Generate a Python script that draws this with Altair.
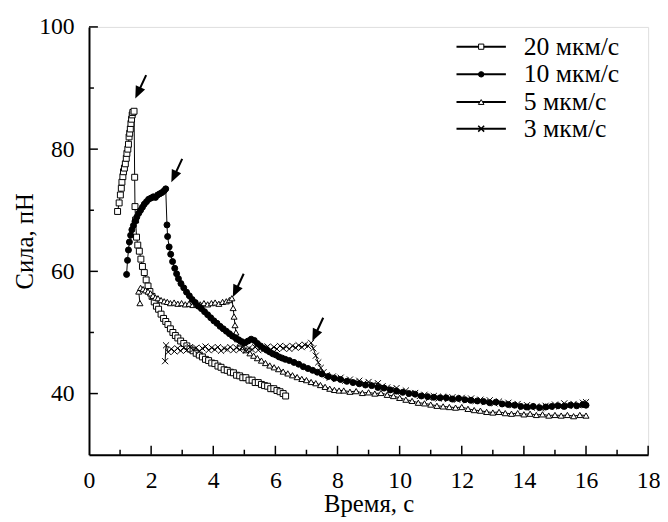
import altair as alt
import pandas as pd

# ---- data ----
series_names = ["20 мкм/с", "10 мкм/с", "5 мкм/с", "3 мкм/с"]

s20 = [(0.92, 69.8), (0.97, 71.2), (1.01, 72.5), (1.04, 73.6), (1.06, 74.6), (1.09, 75.5), (1.11, 76.3),
       (1.14, 76.9), (1.17, 77.6), (1.20, 78.5), (1.22, 79.3), (1.25, 80.0), (1.27, 80.8), (1.29, 82.0),
       (1.31, 82.6), (1.33, 83.3), (1.35, 84.2), (1.37, 84.9), (1.39, 85.6), (1.41, 86.0), (1.45, 86.2),
       (1.47, 75.4), (1.48, 70.6), (1.50, 68.4), (1.53, 65.6), (1.57, 64.3), (1.62, 63.3), (1.67, 62.0),
       (1.72, 60.8), (1.78, 59.8), (1.84, 58.6), (1.90, 57.6), (1.96, 56.7), (2.03, 55.9), (2.10, 55.0),
       (2.17, 54.3), (2.24, 53.8), (2.32, 53.0), (2.40, 52.3), (2.47, 51.8), (2.54, 51.3), (2.62, 50.6),
       (2.70, 50.0), (2.78, 49.5), (2.86, 49.1), (2.95, 48.6), (3.05, 48.2), (3.15, 47.8), (3.25, 47.3),
       (3.35, 47.0), (3.45, 46.6), (3.55, 46.3), (3.65, 46.0), (3.75, 45.6), (3.85, 45.4), (3.95, 45.0),
       (4.05, 44.9), (4.15, 44.5), (4.25, 44.3), (4.35, 43.9), (4.45, 43.8), (4.55, 43.5), (4.65, 43.4),
       (4.75, 43.0), (4.85, 42.9), (4.95, 42.6), (5.05, 42.6), (5.15, 42.2), (5.25, 42.2), (5.35, 41.8),
       (5.45, 41.8), (5.55, 41.5), (5.65, 41.3), (5.75, 41.2), (5.85, 40.8), (5.95, 40.8), (6.05, 40.5),
       (6.15, 40.3), (6.25, 40.0), (6.33, 39.6)]

s10 = [(1.21, 59.5), (1.24, 61.8), (1.27, 63.5), (1.30, 64.8), (1.34, 65.9), (1.38, 66.8), (1.43, 67.5),
       (1.48, 68.2), (1.54, 68.9), (1.60, 69.5), (1.66, 70.0), (1.72, 70.5), (1.78, 71.0), (1.85, 71.4),
       (1.92, 71.8), (2.00, 72.0), (2.07, 72.2), (2.14, 72.1), (2.21, 72.5), (2.28, 72.7), (2.35, 72.9),
       (2.42, 73.2), (2.47, 73.5), (2.51, 67.6), (2.53, 65.7), (2.58, 64.0), (2.63, 62.8), (2.69, 61.6),
       (2.76, 60.5), (2.82, 59.6), (2.88, 58.8), (2.96, 58.0), (3.05, 57.3), (3.14, 56.6), (3.23, 56.0),
       (3.32, 55.4), (3.42, 54.9), (3.52, 54.3), (3.62, 53.9), (3.72, 53.4), (3.82, 52.9), (3.92, 52.4),
       (4.02, 51.9), (4.12, 51.5), (4.22, 51.0), (4.32, 50.6), (4.42, 50.2), (4.52, 49.8), (4.62, 49.4),
       (4.72, 49.1), (4.82, 48.8), (4.92, 48.5), (5.02, 48.3), (5.12, 48.6), (5.22, 48.9), (5.32, 48.7),
       (5.42, 48.2), (5.52, 47.8), (5.62, 47.4), (5.72, 47.1), (5.82, 46.8), (5.92, 46.5), (6.02, 46.3),
       (6.12, 46.0), (6.22, 45.8), (6.32, 45.6), (6.45, 45.4), (6.60, 45.1), (6.75, 44.8), (6.90, 44.4),
       (7.05, 44.1), (7.20, 43.8), (7.35, 43.5), (7.50, 43.2), (7.70, 42.8), (7.90, 42.5), (8.10, 42.3),
       (8.30, 42.0), (8.50, 41.8), (8.70, 41.6), (8.90, 41.4), (9.10, 41.3), (9.30, 41.0), (9.50, 40.9),
       (9.70, 40.6), (9.90, 40.4), (10.10, 40.2), (10.30, 40.0), (10.50, 39.9), (10.70, 39.6), (10.90, 39.5),
       (11.10, 39.4), (11.30, 39.3), (11.50, 39.3), (11.70, 39.1), (11.90, 39.2), (12.10, 39.0), (12.30, 38.9),
       (12.50, 38.8), (12.70, 38.7), (12.90, 38.5), (13.10, 38.6), (13.30, 38.3), (13.50, 38.2), (13.70, 38.1),
       (13.90, 37.9), (14.10, 37.8), (14.30, 37.9), (14.50, 37.7), (14.70, 37.8), (14.90, 37.9), (15.10, 38.0),
       (15.30, 37.9), (15.50, 38.1), (15.70, 38.0), (15.90, 38.2), (16.00, 38.1)]

s5 = [(1.64, 54.8), (1.60, 56.7), (1.66, 57.3), (1.74, 57.1), (1.82, 56.9), (1.90, 56.7), (1.98, 56.4),
      (2.06, 56.0), (2.14, 55.7), (2.22, 55.6), (2.32, 55.3), (2.42, 55.1), (2.52, 55.0), (2.62, 54.8),
      (2.74, 54.9), (2.86, 54.7), (2.98, 54.8), (3.10, 54.6), (3.22, 54.7), (3.34, 54.5), (3.46, 54.7),
      (3.58, 54.6), (3.70, 54.8), (3.82, 54.6), (3.94, 54.8), (4.06, 54.9), (4.18, 54.7), (4.30, 55.0),
      (4.42, 55.1), (4.52, 55.3), (4.60, 55.6), (4.64, 54.0), (4.67, 52.6), (4.70, 51.2), (4.73, 50.0),
      (4.78, 48.9), (4.86, 48.2), (4.96, 47.6), (5.06, 47.1), (5.18, 46.6), (5.30, 46.2), (5.42, 45.8),
      (5.55, 45.4), (5.68, 45.0), (5.82, 44.6), (5.96, 44.3), (6.10, 44.0), (6.25, 43.6), (6.40, 43.3),
      (6.55, 43.0), (6.70, 42.7), (6.85, 42.4), (7.00, 42.2), (7.15, 41.9), (7.30, 41.7), (7.45, 41.4),
      (7.60, 41.1), (7.75, 40.8), (7.90, 40.6), (8.05, 40.5), (8.20, 40.5), (8.40, 40.3), (8.60, 40.4),
      (8.80, 40.1), (9.00, 40.2), (9.20, 40.0), (9.40, 40.1), (9.60, 39.8), (9.80, 39.6), (10.00, 39.3),
      (10.20, 39.0), (10.40, 38.8), (10.60, 38.5), (10.80, 38.4), (11.00, 38.2), (11.20, 38.0), (11.40, 37.9),
      (11.60, 37.8), (11.80, 37.7), (12.00, 37.8), (12.20, 37.5), (12.40, 37.3), (12.60, 37.2), (12.80, 37.0),
      (13.00, 36.9), (13.20, 37.0), (13.40, 36.8), (13.60, 36.7), (13.80, 36.8), (14.00, 36.6), (14.20, 36.7),
      (14.40, 36.5), (14.60, 36.6), (14.80, 36.4), (15.00, 36.5), (15.20, 36.4), (15.40, 36.5), (15.60, 36.3),
      (15.80, 36.5), (16.00, 36.4)]

s3 = [(2.45, 45.3), (2.48, 47.9), (2.55, 46.8), (2.65, 47.3), (2.75, 46.9), (2.85, 47.4), (2.95, 47.0),
      (3.05, 47.5), (3.15, 47.1), (3.25, 47.6), (3.35, 47.2), (3.45, 47.5), (3.55, 46.9), (3.65, 47.4),
      (3.75, 47.7), (3.85, 47.1), (3.95, 47.5), (4.05, 47.2), (4.15, 47.6), (4.25, 47.0), (4.35, 47.4),
      (4.45, 47.2), (4.55, 47.6), (4.65, 47.1), (4.75, 47.5), (4.85, 47.2), (4.95, 47.6), (5.05, 47.0),
      (5.15, 47.4), (5.25, 47.2), (5.35, 47.6), (5.45, 47.1), (5.55, 47.5), (5.65, 47.3), (5.75, 47.7),
      (5.85, 47.2), (5.95, 47.6), (6.05, 47.3), (6.15, 47.8), (6.25, 47.4), (6.35, 47.7), (6.45, 47.3),
      (6.55, 47.8), (6.65, 47.5), (6.75, 47.9), (6.85, 47.6), (6.95, 48.0), (7.05, 47.8), (7.15, 48.3),
      (7.22, 47.4), (7.30, 46.2), (7.38, 45.1), (7.46, 44.2), (7.55, 43.5), (7.65, 43.0), (7.75, 42.6),
      (7.85, 42.8), (7.95, 42.4), (8.10, 42.6), (8.25, 42.1), (8.40, 42.3), (8.55, 41.9), (8.70, 42.1),
      (8.85, 41.7), (9.00, 41.9), (9.15, 41.5), (9.30, 41.7), (9.45, 41.2), (9.60, 41.0), (9.75, 40.7),
      (9.90, 40.9), (10.05, 40.3), (10.20, 40.5), (10.35, 40.0), (10.50, 40.1), (10.65, 39.6), (10.80, 39.8),
      (10.95, 39.3), (11.10, 39.6), (11.25, 39.2), (11.40, 39.5), (11.55, 39.1), (11.70, 39.4), (11.85, 39.0),
      (12.00, 39.3), (12.15, 38.9), (12.30, 39.2), (12.45, 38.8), (12.60, 39.0), (12.75, 38.6), (12.90, 38.9),
      (13.05, 38.4), (13.20, 38.7), (13.35, 38.3), (13.50, 38.5), (13.65, 38.1), (13.80, 38.3), (13.95, 37.8),
      (14.10, 38.1), (14.25, 37.7), (14.40, 37.9), (14.55, 37.6), (14.70, 38.0), (14.85, 37.8), (15.00, 38.2),
      (15.15, 37.9), (15.30, 38.4), (15.45, 38.0), (15.60, 38.3), (15.75, 38.1), (15.90, 38.5), (16.00, 38.6)]

# peaks marked by arrows (arrow tip positions)
arrow_x = [1.49, 2.65, 4.63, 7.19]
arrow_y = [88.3, 74.6, 55.8, 48.6]

x_major = [2, 4, 6, 8, 10, 12, 14, 16, 18]
x_minor = [1, 3, 5, 7, 9, 11, 13, 15, 17]
y_major = [40, 60, 80, 100]
y_minor = [50, 70, 90]
x_labels = [0, 2, 4, 6, 8, 10, 12, 14, 16, 18]

# ---- build table ----
series_pts = {"20 мкм/с": s20, "10 мкм/с": s10, "5 мкм/с": s5, "3 мкм/с": s3}
draw_order = ["20 мкм/с", "5 мкм/с", "10 мкм/с", "3 мкм/с"]
rows = []
k = 0
for name in draw_order:
    for i, (t, f) in enumerate(series_pts[name]):
        rows.append({"series": name, "t": t, "f": f, "i": i, "k": k})
        k += 1
df = pd.DataFrame(rows)

W, H = 566, 433
FONT = "Liberation Serif"
XS = alt.Scale(domain=[0, 18], nice=False, zero=False)
YS = alt.Scale(domain=[30, 100], nice=False, zero=False)

CROSS = "M-1,-1L1,1M-1,1L1,-1"
shape_range = ["square", "circle", "triangle-up", CROSS]
fill_range = ["white", "black", "white", "white"]
size_range = [36, 38, 40, 50]
stroke_range = [1, 1, 1, 1.5]

x_axis = alt.Axis(values=x_labels, ticks=False, grid=False, domainColor="black", domainWidth=2,
                  labelFont=FONT, labelFontSize=24, labelColor="black", labelPadding=14,
                  labelFlush=False, title="Время, с", titleFont=FONT, titleFontSize=25,
                  titleFontWeight="normal", titleColor="black", titleY=50, titleBaseline="middle")
y_axis = alt.Axis(values=y_major, ticks=False, grid=False, domainColor="black", domainWidth=2,
                  labelFont=FONT, labelFontSize=24, labelColor="black", labelPadding=15,
                  labelFlush=False, title="Сила, пН", titleFont=FONT, titleFontSize=25,
                  titleFontWeight="normal", titleColor="black", titleAngle=270, titleX=-65,
                  titleY=H / 2, titleAlign="center", titleBaseline="middle")

lines = alt.Chart(df).mark_line(color="black", strokeWidth=1).encode(
    x=alt.X("t:Q", scale=XS, axis=x_axis),
    y=alt.Y("f:Q", scale=YS, axis=y_axis),
    detail="series:N",
    order="i:Q",
)

points = alt.Chart(df).mark_point(stroke="black", opacity=1, fillOpacity=1).encode(
    x=alt.X("t:Q", scale=XS),
    y=alt.Y("f:Q", scale=YS),
    shape=alt.Shape("series:N", scale=alt.Scale(domain=series_names, range=shape_range), legend=None),
    fill=alt.Fill("series:N", scale=alt.Scale(domain=series_names, range=fill_range), legend=None),
    size=alt.Size("series:N", scale=alt.Scale(domain=series_names, range=size_range), legend=None),
    strokeWidth=alt.StrokeWidth("series:N", scale=alt.Scale(domain=series_names, range=stroke_range), legend=None),
    order="k:Q",
)

# inward ticks
def xticks(vals, ln):
    return alt.Chart(pd.DataFrame({"v": vals})).mark_rule(color="black", strokeWidth=1.5).encode(
        x=alt.X("v:Q", scale=XS), y=alt.value(H), y2=alt.value(H - ln))

def yticks(vals, ln):
    return alt.Chart(pd.DataFrame({"v": vals})).mark_rule(color="black", strokeWidth=1.5).encode(
        y=alt.Y("v:Q", scale=YS), x=alt.value(0), x2=alt.value(ln))

ARROW = "M0,0L0.4,0.95L0.08,0.95L0.08,2L-0.08,2L-0.08,0.95L-0.4,0.95Z"
arrows = alt.Chart(pd.DataFrame({"ax": arrow_x, "ay": arrow_y})).mark_point(
    shape=ARROW, size=676, angle=205, filled=True, color="black", opacity=1, strokeWidth=0
).encode(x=alt.X("ax:Q", scale=XS), y=alt.Y("ay:Q", scale=YS))

# legend (drawn by hand, top right)
legend_layers = []
row_y = [20, 48, 76, 103]
leg_size = [28, 30, 32, 36]
for name, ry, shp, fil, sz, sw in zip(series_names, row_y, shape_range, fill_range, leg_size, stroke_range):
    d = pd.DataFrame({"s": [name]})
    legend_layers.append(alt.Chart(d).mark_rule(color="black", strokeWidth=2).encode(
        x=alt.value(372), x2=alt.value(422), y=alt.value(ry)))
    legend_layers.append(alt.Chart(d).mark_point(shape=shp, fill=fil, stroke="black", strokeWidth=sw,
                                                 opacity=1, fillOpacity=1, size=sz).encode(
        x=alt.value(397), y=alt.value(ry)))
    legend_layers.append(alt.Chart(d).mark_text(align="left", baseline="middle", font=FONT,
                                                fontSize=26, color="black").encode(
        x=alt.value(440), y=alt.value(ry), text="s:N"))

chart = alt.layer(
    lines, points, xticks(x_major, 9), xticks(x_minor, 5), yticks(y_major, 9), yticks(y_minor, 5),
    arrows, *legend_layers
).properties(
    width=W, height=H,
    padding={"left": 82, "top": 16, "right": 12, "bottom": 66},
    autosize=alt.AutoSizeParams(type="none"),
).configure_view(stroke=None).configure(background="white", font=FONT).configure_axis(
    labelFont=FONT, titleFont=FONT).configure_text(font=FONT)

chart.save("out.html", embed_options={"renderer": "svg", "actions": False})
